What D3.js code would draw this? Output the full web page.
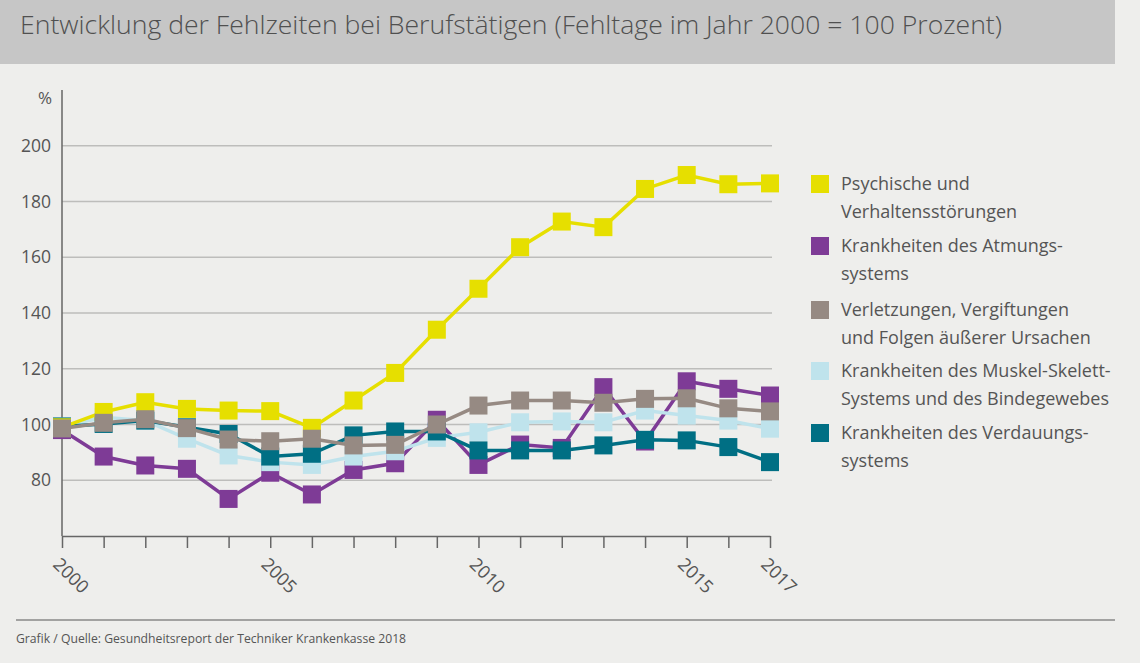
<!DOCTYPE html>
<html>
<head>
<meta charset="utf-8">
<script src="https://cdn.jsdelivr.net/npm/d3@7"></script>
<style>
  body { margin: 0; background: #eeeeec; }
  text { font-family: "Open Sans", sans-serif; fill: #555; }
</style>
</head>
<body>
<div id="myVis"></div>
<script>
var w = 1140;
var h = 663;

// data
var years = [2000, 2001, 2002, 2003, 2004, 2005, 2006, 2007, 2008, 2009, 2010, 2011, 2012, 2013, 2014, 2015, 2016, 2017];
var yearLabels = [2000, 2005, 2010, 2015, 2017];
var yTicks = [80, 100, 120, 140, 160, 180, 200];

var psychisch   = [99, 104.5, 108, 105.6, 105, 104.8, 98.8, 108.6, 118.5, 134, 148.7, 163.6, 172.8, 170.8, 184.5, 189.5, 186.2, 186.5];
var atmung      = [98, 88.5, 85.3, 84.1, 73.3, 82.7, 74.9, 83.7, 86.1, 101.7, 85.5, 92.8, 91.6, 113.4, 93.9, 115.5, 112.8, 110.4];
var verletzung  = [98.6, 100.6, 101.9, 98.7, 94.6, 94.0, 94.9, 92.5, 92.7, 100, 106.8, 108.6, 108.6, 107.8, 109.2, 109.4, 105.8, 104.7];
var muskel      = [99.3, 102.6, 101.4, 94.9, 88.9, 86.5, 85.5, 88.5, 90.4, 95.2, 97.2, 100.8, 101.1, 100.8, 105, 103.2, 101.4, 98.5];
var verdauung   = [99.3, 100.2, 101.4, 99, 96.6, 88.5, 89.5, 96.1, 97.5, 97.5, 90.7, 90.7, 90.7, 92.5, 94.5, 94.3, 91.9, 86.5];

var seriesNames = [
  ["Psychische und", "Verhaltensstörungen"],
  ["Krankheiten des Atmungs-", "systems"],
  ["Verletzungen, Vergiftungen", "und Folgen äußerer Ursachen"],
  ["Krankheiten des Muskel-Skelett-", "Systems und des Bindegewebes"],
  ["Krankheiten des Verdauungs-", "systems"]
];
var seriesValues = [psychisch, atmung, verletzung, muskel, verdauung];
var colors = ["#e6df00", "#7e3b96", "#968a83", "#bfe3ec", "#006f84"];
var drawOrder = [1, 3, 4, 0, 2];

var svg = d3.select("#myVis").append("svg")
  .attr("width", w)
  .attr("height", h)
  .style("background-color", "#eeeeec");

// title band
svg.append("rect").attr("x", 0).attr("y", 0).attr("width", 1115).attr("height", 64).attr("fill", "#c6c6c6");
svg.append("text")
  .attr("x", 20).attr("y", 34)
  .attr("font-size", 25).attr("font-weight", 300)
  .attr("textLength", 982).attr("lengthAdjust", "spacingAndGlyphs")
  .style("fill", "#505050")
  .text("Entwicklung der Fehlzeiten bei Berufstätigen (Fehltage im Jahr 2000 = 100 Prozent)");

var xScale = d3.scaleLinear().domain([2000, 2017]).range([62, 770]);
var yScale = d3.scaleLinear().domain([60, 220]).range([536, 90]);

// grid
svg.append("g")
  .selectAll("line")
  .data(yTicks)
  .enter()
  .append("line")
  .attr("x1", 62).attr("x2", 772)
  .attr("y1", function(d) { return yScale(d); })
  .attr("y2", function(d) { return yScale(d); })
  .attr("stroke", "#bdbdbb").attr("stroke-width", 1.5);

// y axis
var yAxis = svg.append("g")
  .attr("transform", "translate(62,0)")
  .call(d3.axisLeft(yScale).tickValues(yTicks).tickSize(0).tickPadding(11));
yAxis.select(".domain").remove();
yAxis.selectAll("text").attr("font-size", 17.5).style("fill", "#555");
svg.append("line").attr("x1", 62).attr("x2", 62).attr("y1", 90).attr("y2", 536)
  .attr("stroke", "#666").attr("stroke-width", 1.5);
svg.append("text").attr("x", 52).attr("y", 104).attr("text-anchor", "end")
  .attr("font-size", 17).text("%");

// x axis
var xAxis = svg.append("g")
  .attr("transform", "translate(0,536)")
  .call(d3.axisBottom(xScale).tickValues(years).tickSize(12).tickSizeOuter(0)
    .tickFormat(function(d) { return yearLabels.indexOf(d) >= 0 ? d : ""; }));
xAxis.select(".domain").attr("stroke", "#666").attr("stroke-width", 1.5);
xAxis.selectAll("line").attr("stroke", "#666").attr("stroke-width", 1.5);
xAxis.selectAll("text")
  .attr("font-size", 18).style("fill", "#555")
  .attr("text-anchor", "start")
  .attr("transform", "translate(1,18) rotate(45)")
  .attr("dy", "0.9em").attr("y", 0);

// lines and markers
var line = d3.line()
  .x(function(d, i) { return xScale(years[i]); })
  .y(function(d) { return yScale(d); });

var ms = 18;
drawOrder.forEach(function(k) {
  var vals = seriesValues[k];
  svg.append("path")
    .attr("d", line(vals))
    .attr("fill", "none")
    .attr("stroke", colors[k])
    .attr("stroke-width", 3.5);
  svg.append("g").selectAll("rect")
    .data(vals)
    .enter()
    .append("rect")
    .attr("x", function(d, i) { return xScale(years[i]) - ms / 2; })
    .attr("y", function(d) { return yScale(d) - ms / 2; })
    .attr("width", ms).attr("height", ms)
    .attr("fill", colors[k]);
});

// legend
var legendY = [184, 246, 310, 371, 433];
var legend = svg.append("g").selectAll("g")
  .data(seriesNames)
  .enter()
  .append("g")
  .attr("transform", function(d, i) { return "translate(811," + legendY[i] + ")"; });
legend.append("rect")
  .attr("x", 0).attr("y", -9).attr("width", 18).attr("height", 18)
  .attr("fill", function(d, i) { return colors[i]; });
legend.append("text")
  .attr("x", 30).attr("y", 6)
  .attr("font-size", 18)
  .text(function(d) { return d[0]; });
legend.append("text")
  .attr("x", 30).attr("y", 34)
  .attr("font-size", 18)
  .text(function(d) { return d[1]; });

// footer
svg.append("line").attr("x1", 16).attr("x2", 1115).attr("y1", 620).attr("y2", 620)
  .attr("stroke", "#888").attr("stroke-width", 1.5);
svg.append("text").attr("x", 16).attr("y", 643).attr("font-size", 12.2)
  .style("fill", "#555")
  .text("Grafik / Quelle: Gesundheitsreport der Techniker Krankenkasse 2018");
</script>
</body>
</html>
